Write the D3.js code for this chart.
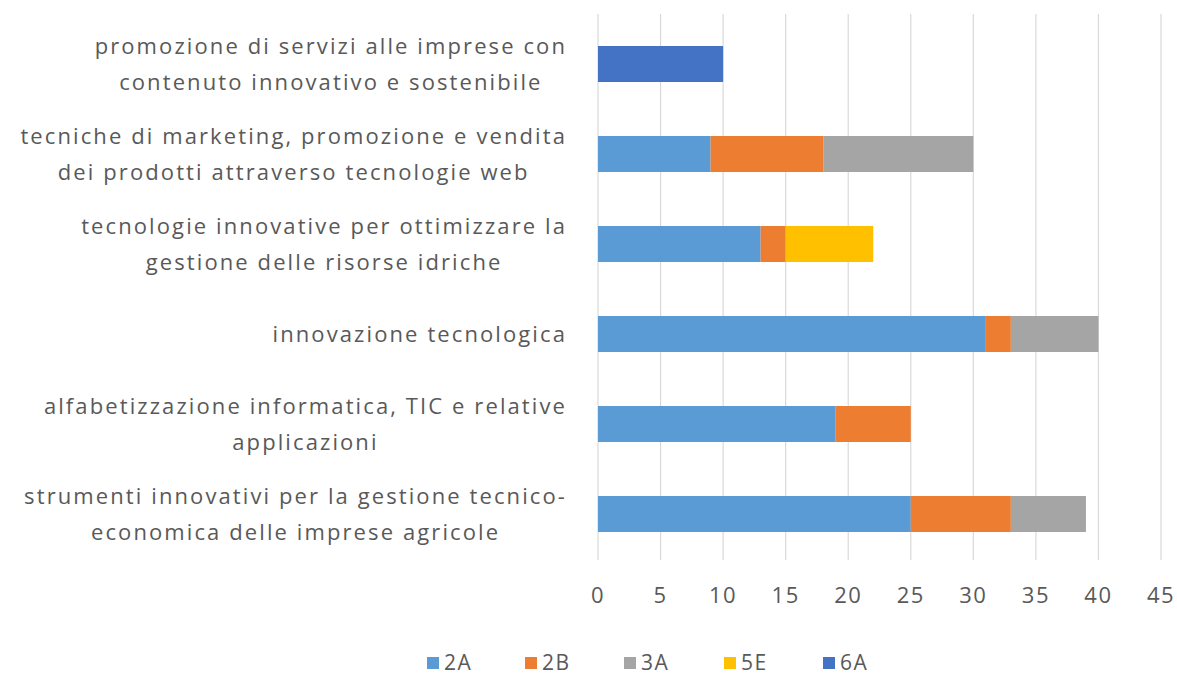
<!DOCTYPE html>
<html>
<head>
<meta charset="utf-8">
<script src="https://cdn.jsdelivr.net/npm/d3@7"></script>
<style>
  body { margin: 0; background: #fff; }
  svg text { font-family: "Open Sans", sans-serif; fill: #595959; }
</style>
</head>
<body>
<div id="chart"></div>
<script>
// categories, top to bottom, already split into lines as in the picture
const categories = [
  ["promozione di servizi alle imprese con", "contenuto innovativo e sostenibile"],
  ["tecniche di marketing, promozione e vendita", "dei prodotti attraverso tecnologie web"],
  ["tecnologie innovative per ottimizzare la", "gestione delle risorse idriche"],
  ["innovazione tecnologica"],
  ["alfabetizzazione informatica, TIC e relative", "applicazioni"],
  ["strumenti innovativi per la gestione tecnico-", "economica delle imprese agricole"]
];
const seriesNames = ["2A", "2B", "3A", "5E", "6A"];
const seriesColors = ["#5b9bd5", "#ed7d31", "#a5a5a5", "#ffc000", "#4472c4"];
const v2A = [0, 9, 13, 31, 19, 25];
const v2B = [0, 9, 2, 2, 6, 8];
const v3A = [0, 12, 0, 7, 0, 6];
const v5E = [0, 0, 7, 0, 0, 0];
const v6A = [10, 0, 0, 0, 0, 0];
const xTicks = [0, 5, 10, 15, 20, 25, 30, 35, 40, 45];

const W = 1177, H = 679;
const margin = {top: 19, right: 16, bottom: 120, left: 598};
const width = W - margin.left - margin.right;
const height = H - margin.top - margin.bottom;

const rows = categories.map((c, i) => ({
  idx: i, "2A": v2A[i], "2B": v2B[i], "3A": v3A[i], "5E": v5E[i], "6A": v6A[i]
}));

const svg = d3.select("#chart").append("svg")
  .attr("width", W).attr("height", H);
const chart = svg.append("g")
  .attr("transform", `translate(${margin.left},${margin.top})`);

const x = d3.scaleLinear().domain([0, 45]).range([0, width]);
const y = d3.scaleBand().domain(d3.range(categories.length)).range([0, height]).paddingInner(0.6).paddingOuter(0.3);
const color = d3.scaleOrdinal().domain(seriesNames).range(seriesColors);

// gridlines
chart.selectAll(".grid")
  .data(xTicks).join("line")
  .attr("x1", d => x(d)).attr("x2", d => x(d))
  .attr("y1", -5).attr("y2", height + 1)
  .attr("stroke", "#d9d9d9").attr("stroke-width", 1.2);

// tick labels
chart.selectAll(".tick-label")
  .data(xTicks).join("text")
  .attr("x", d => x(d)).attr("y", height + 44)
  .attr("text-anchor", "middle")
  .style("font-size", "22px")
  .style("letter-spacing", "1.5px")
  .text(d => d);

const stack = d3.stack().keys(seriesNames)(rows);

chart.selectAll(".series")
  .data(stack).join("g")
  .attr("fill", d => color(d.key))
  .selectAll("rect")
  .data(d => d.filter(p => p[1] - p[0] > 0)).join("rect")
  .attr("x", d => x(d[0]))
  .attr("width", d => x(d[1]) - x(d[0]))
  .attr("y", d => y(d.data.idx))
  .attr("height", y.bandwidth());

// category labels: lines centred, block right-aligned near the axis
const lineH = 36;
const labelRight = 567 - margin.left;
chart.selectAll(".cat")
  .data(categories).join("text")
  .attr("text-anchor", "middle")
  .style("font-size", "22px")
  .style("letter-spacing", "2.1px")
  .each(function(lines, i) {
    const t = d3.select(this);
    const cy = y(i) + y.bandwidth() / 2;
    const y0 = cy - (lines.length - 1) * lineH / 2;
    const spans = t.selectAll("tspan")
      .data(lines).join("tspan")
      .attr("y", (l, j) => y0 + j * lineH)
      .attr("dy", "0.35em")
      .text(l => l);
    let maxW = 0;
    spans.each(function() { maxW = Math.max(maxW, this.getComputedTextLength()); });
    spans.attr("x", labelRight - maxW / 2);
  });

// legend
const legendX = [427, 525, 624, 724, 823];
const legend = svg.selectAll(".legend")
  .data(seriesNames).join("g")
  .attr("transform", (d, i) => `translate(${legendX[i]},663)`);
legend.append("rect")
  .attr("x", 0).attr("y", -6).attr("width", 12).attr("height", 12)
  .attr("fill", d => color(d));
legend.append("text")
  .attr("x", 17).attr("y", 0).attr("dy", "0.35em")
  .style("font-size", "21px")
  .style("letter-spacing", "1.5px")
  .text(d => d);
</script>
</body>
</html>
